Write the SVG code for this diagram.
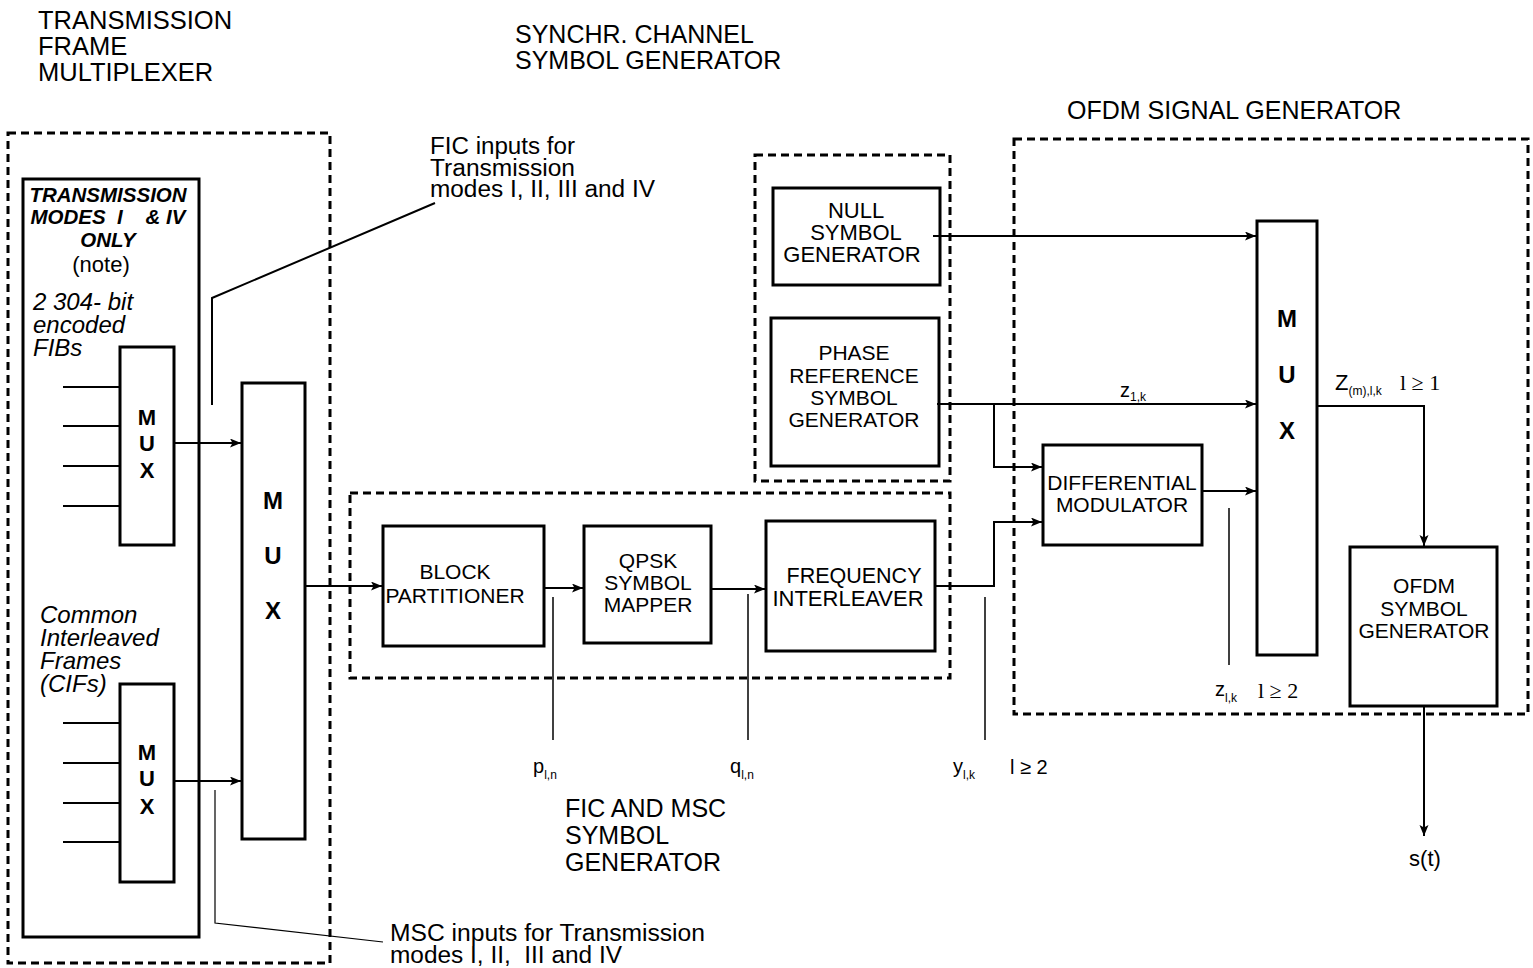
<svg xmlns="http://www.w3.org/2000/svg" width="1533" height="968" viewBox="0 0 1533 968">
<defs>
<marker id="arr" markerUnits="userSpaceOnUse" markerWidth="12" markerHeight="10" refX="11" refY="4.5" orient="auto">
<path d="M0,0 L11,4.5 L0,9 L2.5,4.5 z" fill="#000"/>
</marker>
</defs>
<style>
text{font-family:"Liberation Sans",Arial,sans-serif;fill:#000}
.box{fill:none;stroke:#000;stroke-width:3}
.dash{fill:none;stroke:#000;stroke-width:3;stroke-dasharray:8,5}
.lbl{font-size:21px;text-anchor:middle}
.lbl2{font-size:22px;text-anchor:middle}
.big{font-size:25px}
.note{font-size:23px}
.it{font-size:24px;font-style:italic}
.bi{font-size:20.5px;font-style:italic;font-weight:bold;text-anchor:middle}
.mux{font-size:22px;font-weight:bold;text-anchor:middle}
.muxb{font-size:24px;font-weight:bold;text-anchor:middle}
.sym{font-size:20px}
.sub{font-size:12px}
.ser{font-family:"Liberation Serif","Times New Roman",serif;font-size:22px}
.con{fill:none;stroke:#000;stroke-width:2}
.thin{fill:none;stroke:#000;stroke-width:1.5}
</style>

<!-- group labels -->
<g id="titles">
<text class="big" x="38" y="29" style="font-size:25.5px">TRANSMISSION</text>
<text class="big" x="38" y="55" style="font-size:25.5px">FRAME</text>
<text class="big" x="38" y="81" style="font-size:25.5px">MULTIPLEXER</text>
<text class="big" x="515" y="43">SYNCHR. CHANNEL</text>
<text class="big" x="515" y="69">SYMBOL GENERATOR</text>
<text class="big" x="1067" y="119">OFDM SIGNAL GENERATOR</text>
<text class="big" x="565" y="817">FIC AND MSC</text>
<text class="big" x="565" y="844">SYMBOL</text>
<text class="big" x="565" y="871">GENERATOR</text>
</g>

<!-- dashed group boxes -->
<g id="tfm-frame"><rect class="dash" x="8" y="133" width="322" height="830"/></g>
<g id="synch-frame"><rect class="dash" x="755" y="155" width="195" height="326"/></g>
<g id="fic-frame"><rect class="dash" x="350" y="493" width="600" height="185"/></g>
<g id="ofdm-frame"><rect class="dash" x="1014" y="139" width="514" height="575"/></g>

<!-- inner mode box -->
<g id="modes-box">
<rect class="box" x="23" y="179" width="176" height="758"/>
<text class="bi" x="108" y="202">TRANSMISSION</text>
<text class="bi" x="108" y="224" xml:space="preserve">MODES  I    &amp; IV</text>
<text class="bi" x="108" y="247">ONLY</text>
<text x="101" y="272" style="font-size:22px;text-anchor:middle">(note)</text>
<text class="it" x="33" y="310">2 304- bit</text>
<text class="it" x="33" y="333">encoded</text>
<text class="it" x="33" y="356">FIBs</text>
<text class="it" x="40" y="623">Common</text>
<text class="it" x="40" y="646">Interleaved</text>
<text class="it" x="40" y="669">Frames</text>
<text class="it" x="40" y="692">(CIFs)</text>
</g>

<g id="mux-fib">
<rect class="box" x="120" y="347" width="54" height="198"/>
<text class="mux" x="147" y="425">M</text>
<text class="mux" x="147" y="451">U</text>
<text class="mux" x="147" y="478">X</text>
</g>

<g id="mux-cif">
<rect class="box" x="120" y="684" width="54" height="198"/>
<text class="mux" x="147" y="760">M</text>
<text class="mux" x="147" y="786">U</text>
<text class="mux" x="147" y="814">X</text>
</g>

<g id="mux-main">
<rect class="box" x="242" y="383" width="63" height="456"/>
<text class="muxb" x="273" y="509">M</text>
<text class="muxb" x="273" y="564">U</text>
<text class="muxb" x="273" y="619">X</text>
</g>

<g id="fic-note">
<text class="note" x="430" y="154" textLength="145" lengthAdjust="spacingAndGlyphs">FIC inputs for</text>
<text class="note" x="430" y="175.5" textLength="145" lengthAdjust="spacingAndGlyphs">Transmission</text>
<text class="note" x="430" y="197" textLength="225" lengthAdjust="spacingAndGlyphs">modes I, II, III and IV</text>
</g>
<g id="msc-note">
<text class="note" x="390" y="941" textLength="315" lengthAdjust="spacingAndGlyphs">MSC inputs for Transmission</text>
<text class="note" x="390" y="963" xml:space="preserve" textLength="232" lengthAdjust="spacingAndGlyphs">modes I, II,  III and IV</text>
</g>

<g id="block-partitioner">
<rect class="box" x="383" y="526" width="161" height="120"/>
<text class="lbl" x="455" y="579">BLOCK</text>
<text class="lbl" x="455" y="603">PARTITIONER</text>
</g>

<g id="qpsk-mapper">
<rect class="box" x="584" y="526" width="127" height="117"/>
<text class="lbl" x="648" y="568">QPSK</text>
<text class="lbl" x="648" y="590">SYMBOL</text>
<text class="lbl" x="648" y="612">MAPPER</text>
</g>

<g id="freq-interleaver">
<rect class="box" x="766" y="521" width="169" height="130"/>
<text class="lbl" x="854" y="583" style="font-size:21.5px">FREQUENCY</text>
<text class="lbl" x="848" y="606" style="font-size:22px">INTERLEAVER</text>
</g>

<g id="null-gen">
<rect class="box" x="773" y="188" width="167" height="97"/>
<text class="lbl2" x="856" y="218">NULL</text>
<text class="lbl2" x="856" y="240">SYMBOL</text>
<text class="lbl2" x="852" y="262">GENERATOR</text>
</g>

<g id="phase-gen">
<rect class="box" x="771" y="318" width="168" height="148"/>
<text class="lbl" x="854" y="360">PHASE</text>
<text class="lbl" x="854" y="383">REFERENCE</text>
<text class="lbl" x="854" y="405">SYMBOL</text>
<text class="lbl" x="854" y="427">GENERATOR</text>
</g>

<g id="diff-mod">
<rect class="box" x="1043" y="445" width="159" height="100"/>
<text class="lbl" x="1122" y="490">DIFFERENTIAL</text>
<text class="lbl" x="1122" y="512">MODULATOR</text>
</g>

<g id="mux-ofdm">
<rect class="box" x="1257" y="221" width="60" height="434"/>
<text class="muxb" x="1287" y="327">M</text>
<text class="muxb" x="1287" y="383">U</text>
<text class="muxb" x="1287" y="439">X</text>
</g>

<g id="ofdm-gen">
<rect class="box" x="1350" y="547" width="147" height="159"/>
<text class="lbl" x="1424" y="593">OFDM</text>
<text class="lbl" x="1424" y="616">SYMBOL</text>
<text class="lbl" x="1424" y="638">GENERATOR</text>
</g>

<!-- signal labels -->
<g id="signal-labels">
<text class="sym" x="533" y="773">p<tspan class="sub" dy="6">l,n</tspan></text>
<text class="sym" x="730" y="773">q<tspan class="sub" dy="6">l,n</tspan></text>
<text class="sym" x="953" y="773">y<tspan class="sub" dy="6">l,k</tspan></text>
<text class="sym" x="1010" y="774">l ≥ 2</text>
<text class="sym" x="1120" y="397">z<tspan class="sub" dy="4">1,k</tspan></text>
<text class="sym" x="1215" y="696">z<tspan class="sub" dy="6">l,k</tspan></text>
<text class="ser" x="1258" y="698">l ≥ 2</text>
<text class="sym" x="1335" y="390" style="font-size:22px">Z<tspan class="sub" dy="5">(m),l,k</tspan></text>
<text class="ser" x="1400" y="390">l ≥ 1</text>
<text x="1425" y="866" style="font-size:22px;text-anchor:middle">s(t)</text>
</g>

<!-- connectors -->
<g id="connectors">
<line class="con" x1="63" y1="387" x2="120" y2="387"/>
<line class="con" x1="63" y1="426" x2="120" y2="426"/>
<line class="con" x1="63" y1="466" x2="120" y2="466"/>
<line class="con" x1="63" y1="506" x2="120" y2="506"/>
<line class="con" x1="63" y1="723" x2="120" y2="723"/>
<line class="con" x1="63" y1="763" x2="120" y2="763"/>
<line class="con" x1="63" y1="803" x2="120" y2="803"/>
<line class="con" x1="63" y1="842" x2="120" y2="842"/>
<line class="con" x1="174" y1="443" x2="241" y2="443" marker-end="url(#arr)"/>
<line class="con" x1="174" y1="781" x2="241" y2="781" marker-end="url(#arr)"/>
<line class="con" x1="305" y1="586" x2="382" y2="586" marker-end="url(#arr)"/>
<line class="con" x1="544" y1="588" x2="583" y2="588" marker-end="url(#arr)"/>
<line class="con" x1="711" y1="589" x2="765" y2="589" marker-end="url(#arr)"/>
<polyline class="con" points="935,586 994,586 994,522 1042,522" marker-end="url(#arr)"/>
<line class="con" x1="937" y1="404" x2="1256" y2="404" marker-end="url(#arr)"/>
<polyline class="con" points="994,404 994,467 1042,467" marker-end="url(#arr)"/>
<line class="con" x1="933" y1="236" x2="1256" y2="236" marker-end="url(#arr)"/>
<line class="con" x1="1202" y1="491" x2="1256" y2="491" marker-end="url(#arr)"/>
<polyline class="con" points="1317,406 1424,406 1424,546" marker-end="url(#arr)"/>
<line class="con" x1="1424" y1="706" x2="1424" y2="836" marker-end="url(#arr)"/>
<line class="thin" x1="553" y1="597" x2="553" y2="740"/>
<line class="thin" x1="748" y1="594" x2="748" y2="740"/>
<line class="thin" x1="985" y1="597" x2="985" y2="740"/>
<line class="thin" x1="1229" y1="508" x2="1229" y2="665"/>
<polyline class="con" points="212,405 212,298 435,203"/>
<polyline class="thin" points="215,790 215,923 383,942" style="stroke-width:1.2"/>
</g>
</svg>
